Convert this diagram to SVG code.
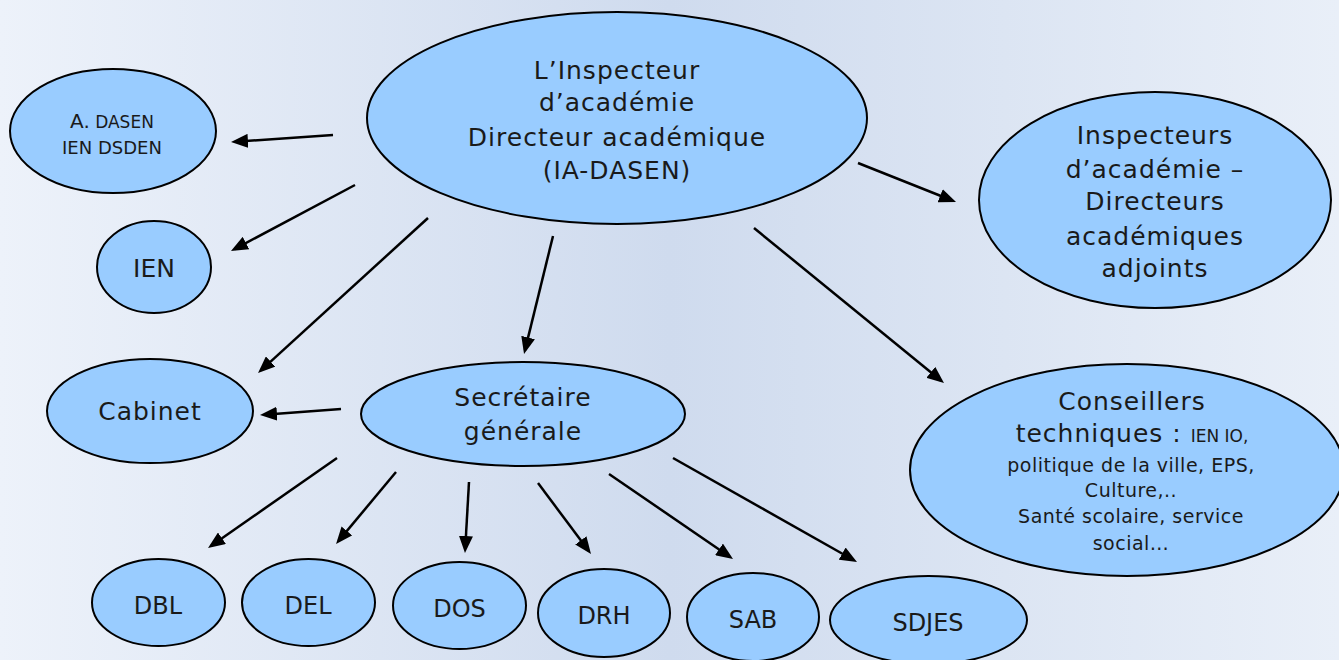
<svg xmlns="http://www.w3.org/2000/svg" width="1339" height="660" viewBox="0 0 1339 660">
<defs>
<linearGradient id="bg" x1="0" y1="0" x2="1" y2="0">
<stop offset="0" stop-color="#edf2fa"/>
<stop offset="0.5" stop-color="#cfdbee"/>
<stop offset="1" stop-color="#e9eff8"/>
</linearGradient>
<marker id="arr" markerUnits="userSpaceOnUse" markerWidth="17" markerHeight="14" refX="13" refY="7" orient="auto">
<path d="M0,0 L17,7 L0,14 z" fill="#000"/>
</marker>
<style>
.n{fill:#99ccff;stroke:#000;stroke-width:2}
.t{font-family:"DejaVu Sans",sans-serif;fill:#1a1a1a;text-anchor:middle}
.c line{stroke:#000;stroke-width:2.5;marker-end:url(#arr)}
</style>
</defs>
<rect x="0" y="0" width="1339" height="660" fill="url(#bg)"/>
<g class="c" id="connectors">
<line x1="333" y1="135" x2="235" y2="141.7"/>
<line x1="355" y1="185" x2="234.5" y2="249.1"/>
<line x1="428" y1="218" x2="261" y2="370.3"/>
<line x1="553" y1="236" x2="525" y2="350.1"/>
<line x1="858" y1="163" x2="952.3" y2="200.5"/>
<line x1="754" y1="228" x2="940.9" y2="380.5"/>
<line x1="341" y1="409" x2="264" y2="414.7"/>
<line x1="337" y1="458" x2="211.3" y2="545.7"/>
<line x1="396" y1="472" x2="338.6" y2="540.9"/>
<line x1="469" y1="482" x2="465.2" y2="549"/>
<line x1="538" y1="483" x2="588.6" y2="550.8"/>
<line x1="609" y1="474" x2="729.7" y2="556.7"/>
<line x1="673" y1="458" x2="853.5" y2="560"/>
</g>
<g id="ia-dasen">
<ellipse class="n" cx="617" cy="118" rx="250" ry="106"/>
<text class="t" font-size="25" letter-spacing="1" x="617" y="79">L’Inspecteur</text>
<text class="t" font-size="25" letter-spacing="1" x="617" y="111">d’académie</text>
<text class="t" font-size="25" letter-spacing="1" x="617" y="146">Directeur académique</text>
<text class="t" font-size="25" letter-spacing="1" x="617" y="179">(IA-DASEN)</text>
</g>
<g id="a-dasen">
<ellipse class="n" cx="113" cy="131" rx="103" ry="62"/>
<text class="t" x="112" y="128"><tspan font-size="20">A.</tspan><tspan font-size="17"> DASEN</tspan></text>
<text class="t" font-size="18" x="112" y="154">IEN DSDEN</text>
</g>
<g id="ien">
<ellipse class="n" cx="154" cy="267" rx="57" ry="46"/>
<text class="t" font-size="25" x="154" y="277">IEN</text>
</g>
<g id="cabinet">
<ellipse class="n" cx="150" cy="411" rx="103" ry="52"/>
<text class="t" font-size="25" letter-spacing="1" x="150" y="420">Cabinet</text>
</g>
<g id="secretaire">
<ellipse class="n" cx="523" cy="414" rx="162" ry="52"/>
<text class="t" font-size="25" letter-spacing="1" x="523" y="406">Secrétaire</text>
<text class="t" font-size="25" letter-spacing="1" x="523" y="440">générale</text>
</g>
<g id="inspecteurs">
<ellipse class="n" cx="1155" cy="200" rx="176" ry="108"/>
<text class="t" font-size="25" letter-spacing="1" x="1155" y="144">Inspecteurs</text>
<text class="t" font-size="25" letter-spacing="1" x="1155" y="178">d’académie –</text>
<text class="t" font-size="25" letter-spacing="1" x="1155" y="210">Directeurs</text>
<text class="t" font-size="25" letter-spacing="1" x="1155" y="245">académiques</text>
<text class="t" font-size="25" letter-spacing="1" x="1155" y="277">adjoints</text>
</g>
<g id="conseillers">
<ellipse class="n" cx="1127" cy="470" rx="217" ry="106"/>
<text class="t" font-size="25" letter-spacing="1" x="1132" y="410">Conseillers</text>
<text class="t" x="1132" y="442"><tspan font-size="25" letter-spacing="1">techniques : </tspan><tspan font-size="17">IEN IO,</tspan></text>
<text class="t" font-size="19" letter-spacing="0.5" x="1131" y="472">politique de la ville, EPS,</text>
<text class="t" font-size="19" letter-spacing="0.5" x="1131" y="497">Culture,..</text>
<text class="t" font-size="19" letter-spacing="0.5" x="1131" y="523">Santé scolaire, service</text>
<text class="t" font-size="19" letter-spacing="0.5" x="1131" y="550">social…</text>
</g>
<g id="dbl">
<ellipse class="n" cx="158.5" cy="602.5" rx="66.5" ry="43.5"/>
<text class="t" font-size="24" x="158" y="614">DBL</text>
</g>
<g id="del">
<ellipse class="n" cx="308.5" cy="602.5" rx="66.5" ry="43.5"/>
<text class="t" font-size="24" x="308" y="614">DEL</text>
</g>
<g id="dos">
<ellipse class="n" cx="459.5" cy="605.5" rx="66.5" ry="43.5"/>
<text class="t" font-size="24" x="459.5" y="617">DOS</text>
</g>
<g id="drh">
<ellipse class="n" cx="604" cy="613" rx="66" ry="44"/>
<text class="t" font-size="24" x="604" y="624">DRH</text>
</g>
<g id="sab">
<ellipse class="n" cx="753" cy="617" rx="66" ry="44"/>
<text class="t" font-size="24" x="753" y="628">SAB</text>
</g>
<g id="sdjes">
<ellipse class="n" cx="928.5" cy="620" rx="98.5" ry="44"/>
<text class="t" font-size="24" x="928" y="631">SDJES</text>
</g>
</svg>
